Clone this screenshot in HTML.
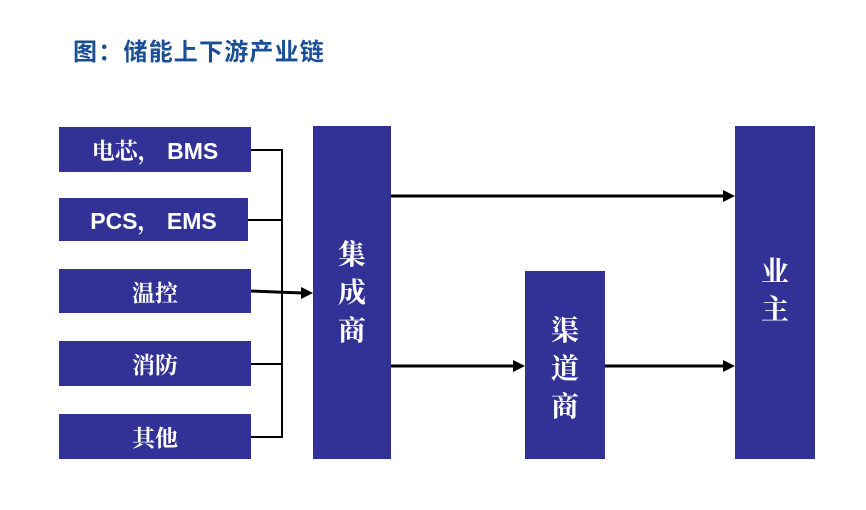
<!DOCTYPE html>
<html><head><meta charset="utf-8"><style>
body{margin:0;width:866px;height:510px;background:#fff;position:relative;overflow:hidden}
.t{position:absolute;left:73px;top:32px;font:bold 24px "Liberation Sans","Noto Sans CJK SC",sans-serif;color:#1a4f96;letter-spacing:1.2px}
.b{position:absolute;background:#323296;color:#fff;display:flex;align-items:center;justify-content:center;font:bold 23px "Liberation Sans","Noto Serif CJK SC",serif}
.v{flex-direction:column;font-size:28px;line-height:38px}
</style></head><body>
<div class="t">图：储能上下游产业链</div>
<div class="b" style="left:59px;top:127px;width:192px;height:45px">电芯，&nbsp;BMS</div>
<div class="b" style="left:59px;top:198px;width:189px;height:43px">PCS，&nbsp;EMS</div>
<div class="b" style="left:59px;top:269px;width:192px;height:44px">温控</div>
<div class="b" style="left:59px;top:341px;width:192px;height:45px">消防</div>
<div class="b" style="left:59px;top:414px;width:192px;height:45px">其他</div>
<div class="b v" style="left:313px;top:126px;width:78px;height:333px;padding-bottom:0px;box-sizing:border-box">集<span>成</span>商</div>
<div class="b v" style="left:525px;top:271px;width:80px;height:188px;padding-top:8px;box-sizing:border-box">渠<span>道</span>商</div>
<div class="b v" style="left:735px;top:126px;width:80px;height:333px;justify-content:flex-start;padding-top:127px;box-sizing:border-box">业<span>主</span></div>
<svg width="866" height="510" style="position:absolute;left:0;top:0">
<g stroke="#000" stroke-width="2" fill="none">
<path d="M251 150H282V437H251M248 220H282M251 364H282"/>
<path d="M251 291L302 293" stroke-width="3"/>
<path d="M391 196H724M391 366H514M605 366H724" stroke-width="3"/>
</g>
<g fill="#000">
<path d="M313 293L301 287V299Z"/>
<path d="M735 196L723 190V202Z"/>
<path d="M525 366L513 360V372Z"/>
<path d="M735 366L723 360V372Z"/>
</g>
</svg>
</body></html>
